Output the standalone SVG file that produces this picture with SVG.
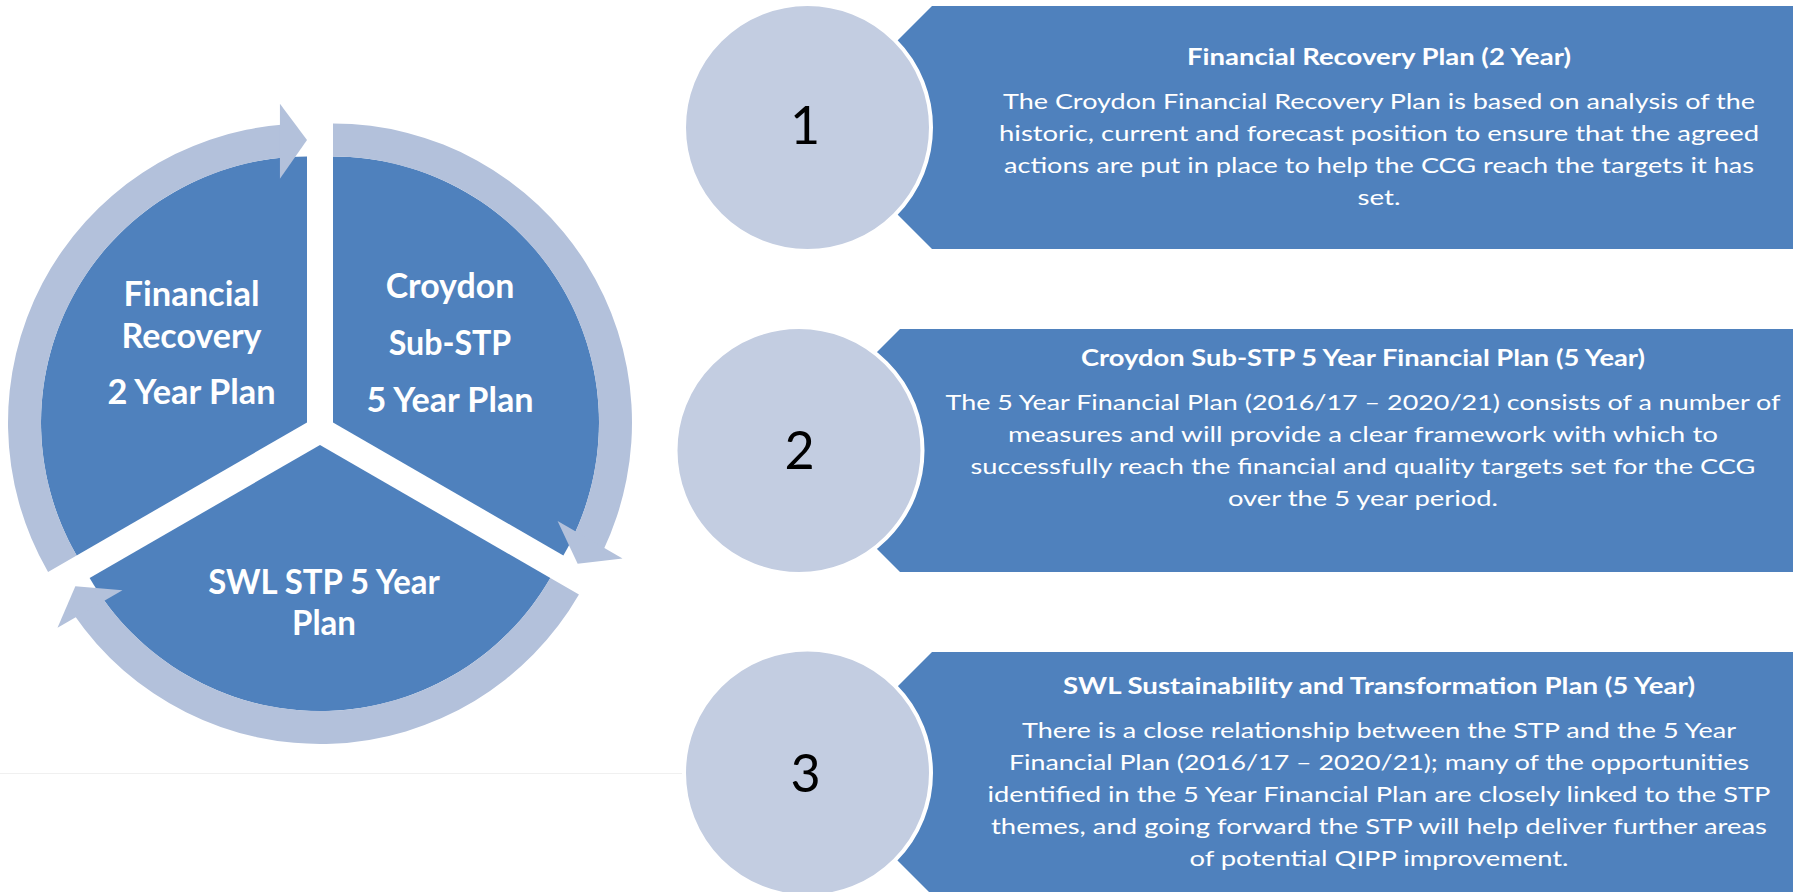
<svg xmlns="http://www.w3.org/2000/svg" width="1796" height="892" viewBox="0 0 1796 892">
  <style>
    .wedge { fill: #4F81BD; }
    .ring { fill: #B3C1DB; }
    .panel { fill: #4F81BD; }
    .badge { fill: #C3CDE1; stroke: #FFFFFF; stroke-width: 4; }
    .pie-label { font-family: Lato, "Open Sans", sans-serif; font-weight: 700; font-size: 35px; fill: #FFFFFF; text-anchor: middle; }
    .num { font-family: Lato, "Open Sans", sans-serif; font-size: 52px; fill: #000000; text-anchor: middle; }
    .title { font-family: Lato, "Open Sans", sans-serif; font-weight: 700; font-size: 22px; fill: #FFFFFF; text-anchor: middle; }
    .body { font-family: Lato, "Open Sans", sans-serif; font-size: 22px; fill: #FFFFFF; text-anchor: middle; }
  </style>

  <rect width="1796" height="892" fill="#FFFFFF"/>
  <line x1="0" y1="773.5" x2="690" y2="773.5" stroke="#F0F0F0" stroke-width="1"/>

  <!-- cycle: three exploded wedges -->
  <g id="wedge-financial-recovery">
    <path class="wedge" d="M307 422.5 L76.64 555.5 A266 266 0 0 1 307 156.5 Z"/>
    <text class="pie-label" x="191.5" y="306" textLength="136" lengthAdjust="spacingAndGlyphs">Financial</text>
    <text class="pie-label" x="191.5" y="348" textLength="140" lengthAdjust="spacingAndGlyphs">Recovery</text>
    <text class="pie-label" x="191.5" y="404" textLength="168" lengthAdjust="spacingAndGlyphs">2 Year Plan</text>
  </g>
  <g id="wedge-croydon-sub-stp">
    <path class="wedge" d="M333 422.5 L333 156.5 A266 266 0 0 1 563.36 555.5 Z"/>
    <text class="pie-label" x="450" y="298" textLength="128.5" lengthAdjust="spacingAndGlyphs">Croydon</text>
    <text class="pie-label" x="450" y="355" textLength="122.6" lengthAdjust="spacingAndGlyphs">Sub-STP</text>
    <text class="pie-label" x="450" y="412" textLength="167" lengthAdjust="spacingAndGlyphs">5 Year Plan</text>
  </g>
  <g id="wedge-swl-stp">
    <path class="wedge" d="M320 445 L550.36 578 A266 266 0 0 1 89.64 578 Z"/>
    <text class="pie-label" x="324" y="594" textLength="231.7" lengthAdjust="spacingAndGlyphs">SWL STP 5 Year</text>
    <text class="pie-label" x="324" y="635" textLength="64" lengthAdjust="spacingAndGlyphs">Plan</text>
  </g>

  <!-- circular arrows running round each wedge -->
  <g id="connectors">
    <path class="ring" d="M48.06 572 A299 299 0 0 1 283.54 124.42 L286.13 157.32 A266 266 0 0 0 76.64 555.5 Z"/>
    <polygon class="ring" points="279.92,103.8 307,140 279.92,178.8"/>
    <path class="ring" d="M333 123.5 A299 299 0 0 1 602.87 551.22 L573.09 537.02 A266 266 0 0 0 333 156.5 Z"/>
    <polygon class="ring" points="622.54,558.4 577.65,563.75 557.58,520.9"/>
    <path class="ring" d="M578.94 594.5 A299 299 0 0 1 73.59 614.36 L100.78 595.67 A266 266 0 0 0 550.36 578 Z"/>
    <polygon class="ring" points="57.53,627.8 75.35,586.25 122.49,590.3"/>
  </g>

  <!-- list panels -->
  <g id="panel-1">
    <polygon class="panel" points="932,6 1793,6 1793,249 932,249 810.5,127.5"/>
    <circle class="badge" cx="807.5" cy="127.5" r="123.5"/>
    <text class="num" x="805" y="143.5">1</text>
    <text class="title" x="1379" y="65" textLength="384" lengthAdjust="spacingAndGlyphs">Financial Recovery Plan (2 Year)</text>
    <text class="body" x="1379" y="109" textLength="752" lengthAdjust="spacingAndGlyphs">The Croydon Financial Recovery Plan is based on analysis of the</text>
    <text class="body" x="1379" y="141" textLength="760" lengthAdjust="spacingAndGlyphs">historic, current and forecast position to ensure that the agreed</text>
    <text class="body" x="1379" y="173" textLength="750" lengthAdjust="spacingAndGlyphs">actions are put in place to help the CCG reach the targets it has</text>
    <text class="body" x="1379" y="205" textLength="43" lengthAdjust="spacingAndGlyphs">set.</text>
  </g>

  <g id="panel-2">
    <polygon class="panel" points="900,329 1793,329 1793,572 900,572 778.5,450.5"/>
    <circle class="badge" cx="799" cy="450.5" r="123.5"/>
    <text class="num" x="799.5" y="468.5">2</text>
    <text class="title" x="1363" y="366" textLength="564" lengthAdjust="spacingAndGlyphs">Croydon Sub-STP 5 Year Financial Plan (5 Year)</text>
    <text class="body" x="1363" y="410" textLength="835" lengthAdjust="spacingAndGlyphs">The 5 Year Financial Plan (2016/17 – 2020/21) consists of a number of</text>
    <text class="body" x="1363" y="442" textLength="710" lengthAdjust="spacingAndGlyphs">measures and will provide a clear framework with which to</text>
    <text class="body" x="1363" y="474" textLength="785" lengthAdjust="spacingAndGlyphs">successfully reach the financial and quality targets set for the CCG</text>
    <text class="body" x="1363" y="506" textLength="270" lengthAdjust="spacingAndGlyphs">over the 5 year period.</text>
  </g>

  <g id="panel-3">
    <polygon class="panel" points="932,652 1793,652 1793,895 932,895 810.5,773.5"/>
    <circle class="badge" cx="807.5" cy="773" r="123.5"/>
    <text class="num" x="805.5" y="792">3</text>
    <text class="title" x="1379" y="694" textLength="632" lengthAdjust="spacingAndGlyphs">SWL Sustainability and Transformation Plan (5 Year)</text>
    <text class="body" x="1379" y="738" textLength="714" lengthAdjust="spacingAndGlyphs">There is a close relationship between the STP and the 5 Year</text>
    <text class="body" x="1379" y="770" textLength="740" lengthAdjust="spacingAndGlyphs">Financial Plan (2016/17 – 2020/21); many of the opportunities</text>
    <text class="body" x="1379" y="802" textLength="783" lengthAdjust="spacingAndGlyphs">identified in the 5 Year Financial Plan are closely linked to the STP</text>
    <text class="body" x="1379" y="834" textLength="776" lengthAdjust="spacingAndGlyphs">themes, and going forward the STP will help deliver further areas</text>
    <text class="body" x="1379" y="866" textLength="379" lengthAdjust="spacingAndGlyphs">of potential QIPP improvement.</text>
  </g>
</svg>
